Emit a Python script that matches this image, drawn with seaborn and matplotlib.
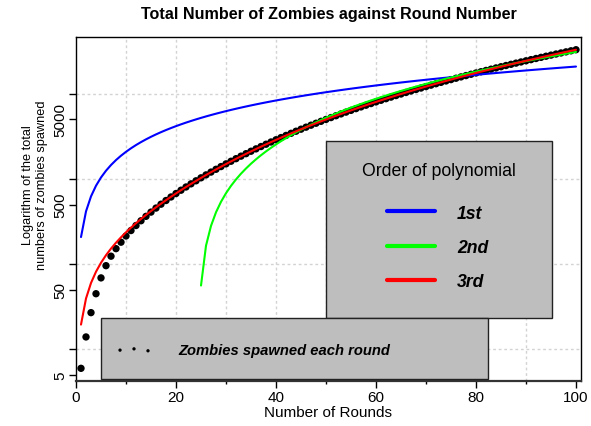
import numpy as np
import pandas as pd
import seaborn as sns
import matplotlib.pyplot as plt
from matplotlib.patches import Rectangle
from matplotlib.ticker import NullLocator

# total zombies spawned after each round (rounds 1..100)
rounds = np.arange(1, 101)
total_zombies = [
    6, 14, 27, 45, 69, 96, 124, 152, 181, 214,
    248, 284, 323, 364, 408, 455, 505, 558, 614, 674,
    737, 804, 875, 950, 1030, 1114, 1203, 1297, 1396, 1501,
    1611, 1727, 1849, 1977, 2111, 2251, 2398, 2551, 2711, 2879,
    3054, 3236, 3426, 3624, 3830, 4044, 4266, 4497, 4737, 4986,
    5244, 5511, 5787, 6073, 6369, 6675, 6991, 7317, 7654, 8002,
    8360, 8729, 9110, 9502, 9906, 10322, 10750, 11190, 11642, 12107,
    12584, 13074, 13577, 14093, 14623, 15166, 15723, 16294, 16879, 17479,
    18093, 18722, 19366, 20025, 20699, 21388, 22093, 22813, 23549, 24302,
    25071, 25856, 26658, 27477, 28313, 29166, 30036, 30924, 31830, 32754,
]
orders = [1, 2, 3]
order_labels = ['1st', '2nd', '3rd']
order_colors = ['#0000FF', '#00FF00', '#FF0000']

df = pd.DataFrame({'Round': rounds, 'Total': total_zombies})

# polynomial fits through the origin (no intercept)
fits = []
for k in orders:
    X = np.column_stack([df['Round'].values ** p for p in range(1, k + 1)]).astype(float)
    coef, *_ = np.linalg.lstsq(X, df['Total'].values.astype(float), rcond=None)
    f = pd.DataFrame({'Round': df['Round'], 'fit': X @ coef, 'Order': k})
    fits.append(f[f['fit'] > 0])
fit_df = pd.concat(fits)

sns.set_theme(style='ticks')
plt.rcParams['font.family'] = ['Liberation Sans', 'DejaVu Sans']
plt.rcParams['text.color'] = 'black'
plt.rcParams['axes.labelcolor'] = 'black'

W, H = 591, 427
def fx(x):
    return x / W
def fy(y):
    return 1 - y / H

fig = plt.figure(figsize=(W / 100, H / 100), dpi=100)
ax = fig.add_axes([fx(76), fy(382), (581 - 76) / W, (382 - 38) / H])

sns.scatterplot(data=df, x='Round', y='Total', ax=ax, color='black',
                s=28, edgecolor='none', zorder=3)
fit_lines = []
for k, c in zip(orders, order_colors):
    sns.lineplot(data=fit_df[fit_df['Order'] == k], x='Round', y='fit',
                 color=c, lw=1.5, ax=ax, zorder=4)
    fit_lines.append(ax.get_lines()[-1])

ax.set_yscale('log')
ax.set_xlim(0, 101)
ax.set_ylim(4.26, 46200)

for gx in [10, 20, 30, 40, 50, 60, 70, 80, 90]:
    ax.axvline(gx, color='#D3D3D3', lw=1, ls=(0, (2, 2)), zorder=1)
for gy in [10, 100, 1000, 10000]:
    ax.axhline(gy, color='#D3D3D3', lw=1, ls=(0, (2, 2)), zorder=1)

ax.set_xticks([0, 20, 40, 60, 80, 100])
ax.set_xticks([10, 30, 50, 70, 90], minor=True)
ax.set_yticks([5, 10, 50, 100, 500, 1000, 5000, 10000])
ax.set_yticklabels(['5', '', '50', '', '500', '', '5000', ''])
ax.yaxis.set_minor_locator(NullLocator())
ax.tick_params(axis='both', which='major', direction='out', length=5, width=1,
               color='black', labelsize=11, pad=1.5, labelcolor='black')
ax.tick_params(axis='x', which='minor', direction='out', length=2.5, width=1, color='black')
ax.tick_params(axis='y', labelrotation=90)
for lab in ax.get_yticklabels():
    lab.set_va('center')

for s in ax.spines.values():
    s.set_color('black')
    s.set_linewidth(1)
ax.spines['bottom'].set_linewidth(1.6)
ax.spines['bottom'].set_color('#333333')

ax.set_title('Total Number of Zombies against Round Number', fontsize=11.6,
             fontweight='bold', pad=13.5, color='black')
ax.set_xlabel('Number of Rounds', fontsize=11, va='center')
ax.xaxis.set_label_coords(fx(328), fy(413), transform=fig.transFigure)
ax.set_ylabel('Logarithm of the total\nnumbers of zombies spawned', fontsize=9.2,
              va='center', linespacing=1.25)
ax.yaxis.set_label_coords(fx(35), fy(185), transform=fig.transFigure)

# legend boxes
box1 = Rectangle((fx(326), fy(319)), (552 - 326) / W, (319 - 142) / H,
                 transform=fig.transFigure, facecolor='#BEBEBE',
                 edgecolor='#222222', lw=1, zorder=6, clip_on=False)
box2 = Rectangle((fx(101), fy(380)), (488 - 101) / W, (380 - 319) / H,
                 transform=fig.transFigure, facecolor='#BEBEBE',
                 edgecolor='#222222', lw=1, zorder=6, clip_on=False)
ax.add_patch(box1)
ax.add_patch(box2)
ax.text(fx(439), fy(172), 'Order of polynomial', transform=fig.transFigure,
        ha='center', va='center', fontsize=12.7, zorder=7)

leg1 = ax.legend(fit_lines, order_labels, loc='center left',
                 bbox_to_anchor=(fx(387), fy(248.5)), bbox_transform=fig.transFigure,
                 frameon=False, borderpad=0, borderaxespad=0,
                 handlelength=2.72, handletextpad=1.25, labelspacing=0.99,
                 prop={'family': 'Liberation Sans', 'weight': 'bold',
                       'style': 'italic', 'size': 12.7})
for h in leg1.get_lines():
    h.set_linewidth(3)
leg1.set_zorder(8)
ax.add_artist(leg1)

leg2 = ax.legend([ax.collections[0]], ['Zombies spawned each round'], loc='center left',
                 bbox_to_anchor=(fx(115.6), fy(351)), bbox_transform=fig.transFigure,
                 frameon=False, borderpad=0, borderaxespad=0,
                 handlelength=2.5, handletextpad=1.74,
                 scatterpoints=3, markerscale=0.45,
                 prop={'family': 'Liberation Sans', 'weight': 'bold',
                       'style': 'italic', 'size': 10.6})
leg2.set_zorder(8)

fig.savefig('out.png', dpi=100)
